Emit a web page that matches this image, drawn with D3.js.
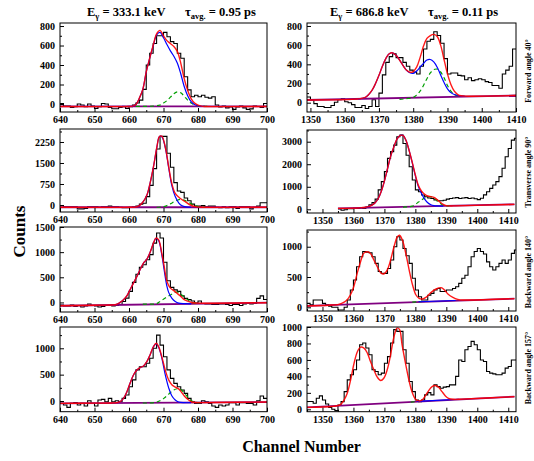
<!DOCTYPE html>
<html><head><meta charset="utf-8">
<script src="https://cdn.jsdelivr.net/npm/d3@7"></script>
<style>
body{margin:0;background:#fff;}
svg{display:block;}
text{font-family:"Liberation Serif","Times New Roman",serif;font-weight:bold;fill:#000;}
</style></head><body>
<svg id="c" width="534" height="461"></svg>
<script>
// ---------------- DATA ----------------
const xTicksLeft = [640,650,660,670,680,690,700];
const xTicksRight = [1350,1360,1370,1380,1390,1400,1410];
const yTicks333Fwd = [0,200,400,600,800];
const yTicks687Fwd = [0,200,400,600,800];
const yTicks333Trans = [0,750,1500,2250];
const yTicks687Trans = [0,1000,2000,3000];
const yTicks333Back140 = [0,500,1000,1500];
const yTicks687Back140 = [0,500,1000];
const yTicks333Back157 = [0,500,1000];
const yTicks687Back157 = [0,200,400,600,800,1000];

const titles = [
  {energy:"333.1", tau:"0.95"},
  {energy:"686.8", tau:"0.11"}
];
const angleLabels = ["Forward angle 40°","Transverse angle 90°","Backward angle 140°","Backward angle 157°"];

// histogram counts, one value per channel
const hist333Fwd = [5,-20,-20,-35,-27,0,-10,-27,0,-20,-45,-27,5,0,-35,-48,-48,-35,-27,-45,-27,-10,
  10,40,150,400,520,620,700,700,735,690,640,620,520,470,280,145,75,90,75,90,70,60,75,
  -10,-30,-20,-40,-30,-55,-30,-20,-40,-55,-50,-20,-25,-35,5];
const hist687Fwd = [60,25,-10,-40,-40,-50,-50,-30,5,30,40,10,0,-20,-50,-50,-30,-60,-40,30,-40,
  100,290,420,480,510,470,470,420,380,340,320,300,380,560,640,660,740,700,620,460,300,
  310,310,285,280,240,260,230,240,250,240,220,210,180,180,150,300,340,380,560];
const hist333Trans = [-20,-60,-60,-60,-60,-140,-140,-120,-60,-60,-60,-80,-60,-60,-40,-60,-60,-80,-100,-100,-80,-60,-40,
  30,60,300,700,1300,2000,2450,2450,1850,1350,800,500,450,250,150,30,-40,-40,-20,-60,-40,-40,
  -80,-100,-60,-100,-60,-60,-120,-60,-60,-60,-140,-80,-40,80,80];
const hist687Trans = [20,-40,-20,30,30,50,40,60,40,100,200,300,450,860,1230,1670,2260,2560,2850,3220,3290,
  2920,2400,1890,1300,860,780,635,560,500,480,420,380,380,400,450,480,500,520,480,500,520,480,500,470,
  430,490,640,780,930,1080,1230,1450,1820,2330,2700,3070,3150];
const hist333Back140 = [-50,-70,-70,-50,-80,-60,-90,-70,-30,-60,-70,-90,-80,-60,-60,-70,-60,-40,
  20,85,220,400,560,700,750,850,950,1180,1380,1280,800,430,300,250,220,130,80,60,30,-10,
  30,-20,-30,-30,-40,-40,-30,-30,-40,-60,-40,-40,-60,-30,-20,-30,-20,80,130,60];
const hist687Back140 = [65,40,120,120,120,65,40,20,0,0,-44,-44,0,120,285,450,670,835,920,910,900,835,725,590,560,560,
  640,780,1000,1165,1110,970,850,725,480,285,175,120,120,200,230,285,310,260,260,285,285,310,340,395,480,530,
  670,835,920,970,920,880,750,670,615,670,725,780,725,780,890,945];
const hist333Back157 = [-45,-75,-120,-45,-30,-75,-45,-95,5,-45,-95,20,30,-15,50,-15,5,-15,50,115,270,400,590,650,650,715,810,1000,
  1250,1060,840,590,430,335,270,210,145,50,-15,-45,-45,5,-15,-45,-95,-120,-75,-95,-75,-30,-30,-75,-30,-30,-45,-45,-75,5,95,50];
const hist687Back157 = [95,95,73,134,163,114,65,24,0,-16,53,94,215,358,420,480,600,785,805,745,663,480,460,420,440,560,640,805,968,947,
  947,723,560,337,215,114,94,114,175,203,175,297,276,256,270,276,297,297,400,600,580,723,764,825,785,723,600,580,460,440,430,420,420,
  440,500,520,600,600];

// fitted curves, [channel, counts]
const red333Fwd = [[640,-25],[660,-25],[661,-22],[662,-5],[663,60],[664,150],[665,330],[666,470],[667,600],[668,720],[669,755],[670,700],[671,650],[672,620],[673,590],[674,540],[675,420],[676,260],[677,140],[678,55],[679,10],[680,-12],[681,-22],[682,-25],[700,-25]];
const blue333Fwd = [[658,-25],[660,-25],[661,-22],[662,-5],[663,60],[664,150],[665,330],[666,470],[667,595],[668,710],[669,735],[670,680],[671,610],[672,545],[673,490],[674,420],[675,310],[676,180],[677,85],[678,25],[679,-5],[680,-18],[682,-25]];
const green333Fwd = [[662,-25],[665,-24],[667,-21],[669,-10],[670,10],[671,35],[672,70],[673,105],[674,125],[675,115],[676,80],[677,40],[678,10],[679,-10],[681,-22],[683,-25]];
const bg333Fwd = [[640,-25],[700,-25]];

const red687Fwd = [[1349,28],[1364,40],[1366,55],[1367,85],[1368,130],[1369,200],[1370,285],[1371,380],[1372,460],[1373,510],[1374,520],[1375,495],[1376,445],[1377,390],[1378,340],[1379,318],[1380,325],[1381,370],[1382,470],[1383,590],[1384,670],[1385,700],[1386,712],[1387,690],[1388,600],[1389,450],[1390,300],[1391,190],[1392,120],[1393,85],[1394,72],[1396,68],[1410,75]];
const blue687Fwd = [[1364,40],[1366,55],[1367,85],[1368,130],[1369,200],[1370,285],[1371,380],[1372,460],[1373,510],[1374,520],[1375,495],[1376,445],[1377,390],[1378,340],[1379,312],[1380,305],[1381,330],[1382,370],[1383,410],[1384,445],[1385,450],[1386,425],[1387,370],[1388,290],[1389,210],[1390,145],[1391,105],[1392,85],[1393,75],[1395,68]];
const green687Fwd = [[1376,35],[1378,42],[1380,55],[1381,80],[1382,120],[1383,180],[1384,250],[1385,310],[1386,345],[1387,350],[1388,320],[1389,260],[1390,180],[1391,120],[1392,85],[1393,70]];
const bg687Fwd = [[1349,28],[1410,75]];

const red333Trans = [[640,-80],[661,-80],[662,-70],[663,-20],[664,100],[665.2,360],[666.1,775],[667.1,1370],[668.1,2080],[668.8,2440],[669.5,2460],[670.5,2080],[671.5,1370],[672.4,775],[673.4,415],[674.8,240],[676.3,120],[677.8,0],[679.2,-60],[681,-78],[700,-80]];
const blue333Trans = [[661,-80],[662,-70],[663,-20],[664,100],[665.2,360],[666.1,775],[667.1,1370],[668.1,2080],[668.8,2440],[669.5,2440],[670.5,2060],[671.5,1330],[672.4,700],[673.4,300],[674.4,80],[675.4,-30],[676.5,-70],[678,-80]];
const green333Trans = [[668,-80],[670,-60],[671,-20],[672,40],[673,110],[674,170],[675,200],[676,175],[677,110],[678,40],[679,-20],[680,-55],[682,-78]];
const bg333Trans = [[640,-80],[700,-80]];

const red687Trans = [[1355,40],[1362,62],[1364,90],[1365,130],[1366,190],[1367,290],[1368,480],[1369,800],[1370,1250],[1371,1800],[1372,2350],[1373,2750],[1374,3100],[1375,3270],[1376,3280],[1377,3050],[1378,2600],[1379,2080],[1380,1520],[1381,1050],[1382,800],[1383,670],[1384,590],[1385,560],[1386,530],[1387,430],[1388,320],[1389,220],[1390,165],[1391,150],[1393,152],[1412,220]];
const blue687Trans = [[1362,62],[1364,90],[1365,130],[1366,190],[1367,290],[1368,480],[1369,800],[1370,1250],[1371,1800],[1372,2350],[1373,2750],[1374,3100],[1375,3270],[1376,3280],[1377,3050],[1378,2600],[1379,2060],[1380,1480],[1381,1000],[1382,700],[1383,450],[1384,290],[1385,200],[1386,160],[1387,148],[1389,145]];
const green687Trans = [[1376,100],[1378,110],[1379,140],[1380,220],[1381,320],[1382,420],[1383,500],[1384,550],[1385,560],[1386,500],[1387,380],[1388,270],[1389,180],[1390,155],[1391,150]];
const bg687Trans = [[1355,40],[1412,220]];

const red333Back140 = [[640,-66],[650,-55],[655,-50],[656,-45],[657,-20],[657.4,0],[658.4,53],[659.4,133],[660.3,252],[661.3,385],[662.3,518],[663.2,650],[664.2,783],[665.2,862],[666.1,995],[667.1,1180],[667.8,1280],[668.6,1245],[669.5,980],[670.2,716],[671,418],[672,285],[672.9,240],[673.9,186],[674.8,133],[675.8,66],[676.8,33],[678.2,0],[679.7,-13],[685,-15],[700,-5]];
const blue333Back140 = [[656,-45],[657,-20],[657.4,0],[658.4,53],[659.4,133],[660.3,252],[661.3,385],[662.3,518],[663.2,650],[664.2,783],[665.2,862],[666.1,995],[667.1,1180],[667.8,1275],[668.6,1230],[669.5,950],[670.2,640],[671,318],[671.5,200],[672.4,86],[673.4,20],[674.4,-13],[676,-25],[678,-28]];
const green333Back140 = [[664,-35],[666,-32],[668,-25],[669,20],[670.5,86],[672,150],[673.4,200],[674.4,200],[675.3,150],[676.8,66],[678.2,0],[680,-20]];
const bg333Back140 = [[640,-66],[700,-5]];

const red687Back140 = [[1345,22],[1352,35],[1355,45],[1356,60],[1357,85],[1357.9,120],[1359,203],[1360.1,340],[1361.2,560],[1362.3,753],[1363.3,890],[1364.4,917],[1365.5,890],[1366.6,780],[1367.7,670],[1368.8,571],[1369.8,550],[1370.9,615],[1372,780],[1373.1,1000],[1374.2,1165],[1374.9,1190],[1375.8,1110],[1376.9,890],[1378,615],[1379.1,368],[1380.2,203],[1381.2,148],[1382.3,137],[1383.4,165],[1385,242],[1386.7,302],[1388.3,324],[1389.4,286],[1390.5,220],[1392.1,165],[1393.7,132],[1395.3,121],[1412,143]];
const blue687Back140 = [[1381,92],[1393,112]];
const green687Back140 = [[1379,85],[1382,95]];
const bg687Back140 = [[1345,22],[1412,143]];

const red333Back157 = [[640,-45],[650,-40],[655,-37],[656.5,-30],[657.4,-13],[658.4,50],[659.4,177],[660.3,335],[661.3,493],[662.3,588],[663.2,633],[664.2,665],[665.2,750],[666.1,873],[667.1,1032],[667.9,1095],[668.6,1032],[669.5,842],[670.5,588],[671.5,400],[672.4,310],[673.4,265],[674.4,230],[675.3,160],[676.3,75],[677.3,19],[678.2,-19],[679.7,-30],[685,-28],[700,-20]];
const blue333Back157 = [[656.5,-30],[657.4,-13],[658.4,50],[659.4,177],[660.3,335],[661.3,493],[662.3,588],[663.2,633],[664.2,665],[665.2,750],[666.1,873],[667.1,1032],[667.9,1090],[668.6,1020],[669.5,820],[670.5,500],[671.5,250],[672.4,100],[673.4,20],[674.4,-20],[676,-32],[678,-32]];
const green333Back157 = [[664,-38],[666,-36],[668,-22],[669,5],[670,45],[671,100],[672,160],[673,210],[674,232],[674.8,225],[675.5,190],[676.3,130],[677.3,55],[678.2,0],[679.5,-25],[681,-32]];
const bg333Back157 = [[640,-45],[700,-20]];

const red687Back157 = [[1345,24],[1353,35],[1354.3,40],[1355.9,60],[1357,114],[1358,195],[1359.1,358],[1360.2,560],[1361.3,703],[1362.3,756],[1363.4,744],[1364.5,683],[1365.5,581],[1366.6,480],[1367.7,390],[1368.8,350],[1369.8,378],[1370.9,480],[1372,663],[1373,866],[1374.1,988],[1374.9,968],[1375.7,785],[1376.8,560],[1377.9,358],[1378.9,215],[1380,126],[1381.1,102],[1382.2,114],[1383.2,163],[1384.3,228],[1385.4,276],[1386.4,289],[1387.5,268],[1388.6,215],[1389.7,163],[1390.7,134],[1392.3,122],[1395,124],[1412,154]];
const blue687Back157 = [[1380.5,96],[1394,122]];
const green687Back157 = [[1378.5,88],[1381,96]];
const bg687Back157 = [[1345,24],[1412,154]];

// ---------------- LAYOUT ----------------
const panels = [
  {hist:hist333Fwd, start:640, red:red333Fwd, blue:blue333Fwd, green:green333Fwd, bg:bg333Fwd, yt:yTicks333Fwd, minor:100,
   xr:[60,267], yr:[23,112], xdom:[640,700], ydom:[-82,831], xt:xTicksLeft},
  {hist:hist687Fwd, start:1349, red:red687Fwd, blue:blue687Fwd, green:green687Fwd, bg:bg687Fwd, yt:yTicks687Fwd, minor:100,
   xr:[307,516], yr:[23,112], xdom:[1349,1410], ydom:[-97,831], xt:xTicksRight},
  {hist:hist333Trans, start:640, red:red333Trans, blue:blue333Trans, green:green333Trans, bg:bg333Trans, yt:yTicks333Trans, minor:375,
   xr:[60,267], yr:[129,212], xdom:[640,700], ydom:[-250,2714], xt:xTicksLeft},
  {hist:hist687Trans, start:1355, red:red687Trans, blue:blue687Trans, green:green687Trans, bg:bg687Trans, yt:yTicks687Trans, minor:500,
   xr:[307,516], yr:[130,213], xdom:[1345,1412.5], ydom:[-164,3519], xt:xTicksRight},
  {hist:hist333Back140, start:640, red:red333Back140, blue:blue333Back140, green:green333Back140, bg:bg333Back140, yt:yTicks333Back140, minor:250,
   xr:[60,267], yr:[227,312], xdom:[640,700], ydom:[-190,1500], xt:xTicksLeft},
  {hist:hist687Back140, start:1345, red:red687Back140, blue:blue687Back140, green:green687Back140, bg:bg687Back140, yt:yTicks687Back140, minor:250,
   xr:[307,516], yr:[230,311], xdom:[1345,1412.5], ydom:[-61,1276], xt:xTicksRight},
  {hist:hist333Back157, start:640, red:red333Back157, blue:blue333Back157, green:green333Back157, bg:bg333Back157, yt:yTicks333Back157, minor:250,
   xr:[60,267], yr:[327,411.7], xdom:[640,700], ydom:[-203,1404], xt:xTicksLeft},
  {hist:hist687Back157, start:1345, red:red687Back157, blue:blue687Back157, green:green687Back157, bg:bg687Back157, yt:yTicks687Back157, minor:100,
   xr:[307,516], yr:[327,411.7], xdom:[1345,1412.5], ydom:[-29,1000], xt:xTicksRight}
];

const svg = d3.select('#c');
const defs = svg.append('defs');

panels.forEach((p,i)=>{
  const x = d3.scaleLinear().domain(p.xdom).range(p.xr);
  const y = d3.scaleLinear().domain(p.ydom).range([p.yr[1], p.yr[0]]);
  const w = p.xr[1]-p.xr[0], h = p.yr[1]-p.yr[0];
  defs.append('clipPath').attr('id','clip'+i).append('rect')
    .attr('x',p.xr[0]).attr('y',p.yr[0]).attr('width',w).attr('height',h);
  const g = svg.append('g');
  const plot = g.append('g').attr('clip-path',`url(#clip${i})`);
  const step = d3.line().x(d=>x(d[0])).y(d=>y(d[1])).curve(d3.curveStepAfter);
  const straight = d3.line().x(d=>x(d[0])).y(d=>y(d[1]));
  const smooth = d3.line().x(d=>x(d[0])).y(d=>y(d[1])).curve(d3.curveCatmullRom.alpha(0.5));

  const hp = p.hist.map((v,j)=>[p.start+j, v]);
  hp.push([p.start+p.hist.length, p.hist[p.hist.length-1]]);
  plot.append('path').attr('d', step(hp))
    .attr('fill','none').attr('stroke','#000').attr('stroke-width',1.1);

  plot.append('path').attr('d', straight(p.bg))
    .attr('fill','none').attr('stroke','#800080').attr('stroke-width',1.8);
  plot.append('path').attr('d', smooth(p.green))
    .attr('fill','none').attr('stroke','#00a000').attr('stroke-width',1.2).attr('stroke-dasharray','4,3');
  plot.append('path').attr('d', smooth(p.blue))
    .attr('fill','none').attr('stroke','#0000ff').attr('stroke-width',1.2);
  plot.append('path').attr('d', smooth(p.red))
    .attr('fill','none').attr('stroke','#ff0000').attr('stroke-width',1.4).attr('stroke-opacity',0.9);

  // frame
  g.append('rect').attr('x',p.xr[0]).attr('y',p.yr[0]).attr('width',w).attr('height',h)
    .attr('fill','none').attr('stroke','#000').attr('stroke-width',1);

  // minor ticks
  const minorY = d3.range(Math.ceil(p.ydom[0]/p.minor)*p.minor, p.ydom[1], p.minor).filter(v=>!p.yt.includes(v));
  g.append('g').attr('transform',`translate(${p.xr[0]},0)`)
    .call(d3.axisLeft(y).tickValues(minorY).tickSize(-2).tickFormat(''))
    .call(a=>a.select('.domain').remove());
  const minorX = d3.range(Math.ceil(p.xdom[0]/5)*5, p.xdom[1], 5).filter(v=>!p.xt.includes(v));
  g.append('g').attr('transform',`translate(0,${p.yr[1]})`)
    .call(d3.axisBottom(x).tickValues(minorX).tickSize(-2).tickFormat(''))
    .call(a=>a.select('.domain').remove());

  const ya = g.append('g').attr('transform',`translate(${p.xr[0]},0)`)
    .call(d3.axisLeft(y).tickValues(p.yt).tickSize(-4).tickPadding(5).tickFormat(d3.format('d')));
  ya.select('.domain').remove();
  const xa = g.append('g').attr('transform',`translate(0,${p.yr[1]})`)
    .call(d3.axisBottom(x).tickValues(p.xt).tickSize(-4).tickPadding(4).tickFormat(d3.format('d')));
  xa.select('.domain').remove();
  g.selectAll('.tick text').attr('font-size',10).attr('font-family','"Liberation Serif",serif').attr('font-weight','bold');
  g.selectAll('.tick line').attr('stroke','#000');
});

// titles
function drawTitle(xE, t){
  const a = svg.append('text').attr('x',xE).attr('y',15.5).attr('font-size',12.5);
  a.append('tspan').text('E');
  a.append('tspan').attr('font-size',8.5).attr('dy',3).text('γ');
  a.append('tspan').attr('dy',-3).text(` = ${t.energy} keV`);
  const b = svg.append('text').attr('x',xE+98).attr('y',15.5).attr('font-size',12.5);
  b.append('tspan').text('τ');
  b.append('tspan').attr('font-size',8.5).attr('dy',3).text('avg.');
  b.append('tspan').attr('dy',-3).text(` = ${t.tau} ps`);
}
drawTitle(87, titles[0]);
drawTitle(330, titles[1]);

// axis titles
svg.append('text').attr('transform','translate(25,231.5) rotate(-90)').attr('text-anchor','middle')
  .attr('font-size',17).text('Counts');
svg.append('text').attr('x',301.5).attr('y',452).attr('text-anchor','middle')
  .attr('font-size',16).text('Channel Number');

// angle labels
const angPos = [[531,71],[531,172],[531,272],[531,368]];
angleLabels.forEach((s,i)=>{
  svg.append('text').attr('transform',`translate(${angPos[i][0]},${angPos[i][1]}) rotate(-90)`)
    .attr('text-anchor','middle').attr('font-size',8).text(s);
});
</script></body></html>
